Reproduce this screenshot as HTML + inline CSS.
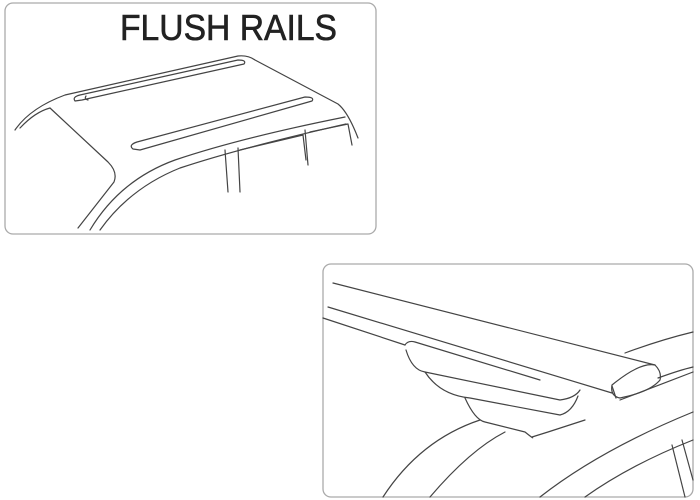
<!DOCTYPE html>
<html><head><style>
html,body{margin:0;padding:0;background:#fff;width:700px;height:500px;overflow:hidden}
svg{position:absolute;left:0;top:0}
</style></head><body>
<svg width="700" height="500" viewBox="0 0 700 500">
<g fill="none" stroke="#aaa" stroke-width="1.3">
<rect x="5" y="3" width="371" height="231" rx="8"/>
<rect x="323" y="264" width="370" height="233" rx="8"/>
</g>
<text x="120" y="40" font-family="'Liberation Sans',sans-serif" font-size="36" fill="#222" stroke="#222" stroke-width="0.6" textLength="217" lengthAdjust="spacingAndGlyphs">FLUSH RAILS</text>
<g fill="none" stroke="#444" stroke-width="1.2" stroke-linecap="round" stroke-linejoin="round">
<path d="M15,130 Q30,108 65,95 L238,56 Q248,55 255,60 L338,104 Q348,112 358,138"/>
<path d="M20,128 Q35,112 50,108"/>
<path d="M50,108 L108,162 Q118,172 114,182 L78,228"/>
<path d="M75,101 Q72,97 80,95 L238,60 Q247,60 244,64 L82,100 Z"/>
<path d="M86,96 Q84,99 88,100"/>
<path d="M133,149 Q128,145 137,142 L305,97 Q315,97 312,101 L140,150 Z"/>
<path d="M90,230 Q120,180 175,160 Q240,138 345,117"/>
<path d="M100,230 Q130,188 180,168 Q240,148 346,124"/>
<path d="M225,150 L228,192"/>
<path d="M238,148 L240,192"/>
<path d="M240,150 L303,135 L306,160"/>
<path d="M310,132 L348,124 L352,145"/>
<path d="M305,130 L308,165"/>
<path d="M333,283 L655,365"/>
<path d="M328,307 L612,393"/>
<path d="M323,318 L405,345"/>
<path d="M612,385 Q640,362 655,365 Q662,372 660,380 Q650,392 620,398 Q610,396 612,385 Z"/>
<path d="M612,386 L616,398"/>
<path d="M625,353 Q660,340 693,332"/>
<path d="M658,378 Q680,370 693,367"/>
<path d="M620,400 L693,372"/>
<path d="M405,345 Q408,340 415,342 L540,380"/>
<path d="M406,350 Q412,370 425,372 L560,400 Q575,398 580,390"/>
<path d="M425,372 Q440,395 470,398 L560,415 Q572,412 578,396"/>
<path d="M465,398 Q475,420 485,422 L525,432 Q535,440 532,437 L548,432 L585,420"/>
<path d="M383,497 Q420,440 480,420"/>
<path d="M430,497 Q470,450 505,432"/>
<path d="M540,497 Q600,450 693,412"/>
<path d="M585,497 Q630,465 693,440"/>
<path d="M672,445 L685,497"/>
<path d="M682,440 L693,480"/>
</g>
</svg>
</body></html>
